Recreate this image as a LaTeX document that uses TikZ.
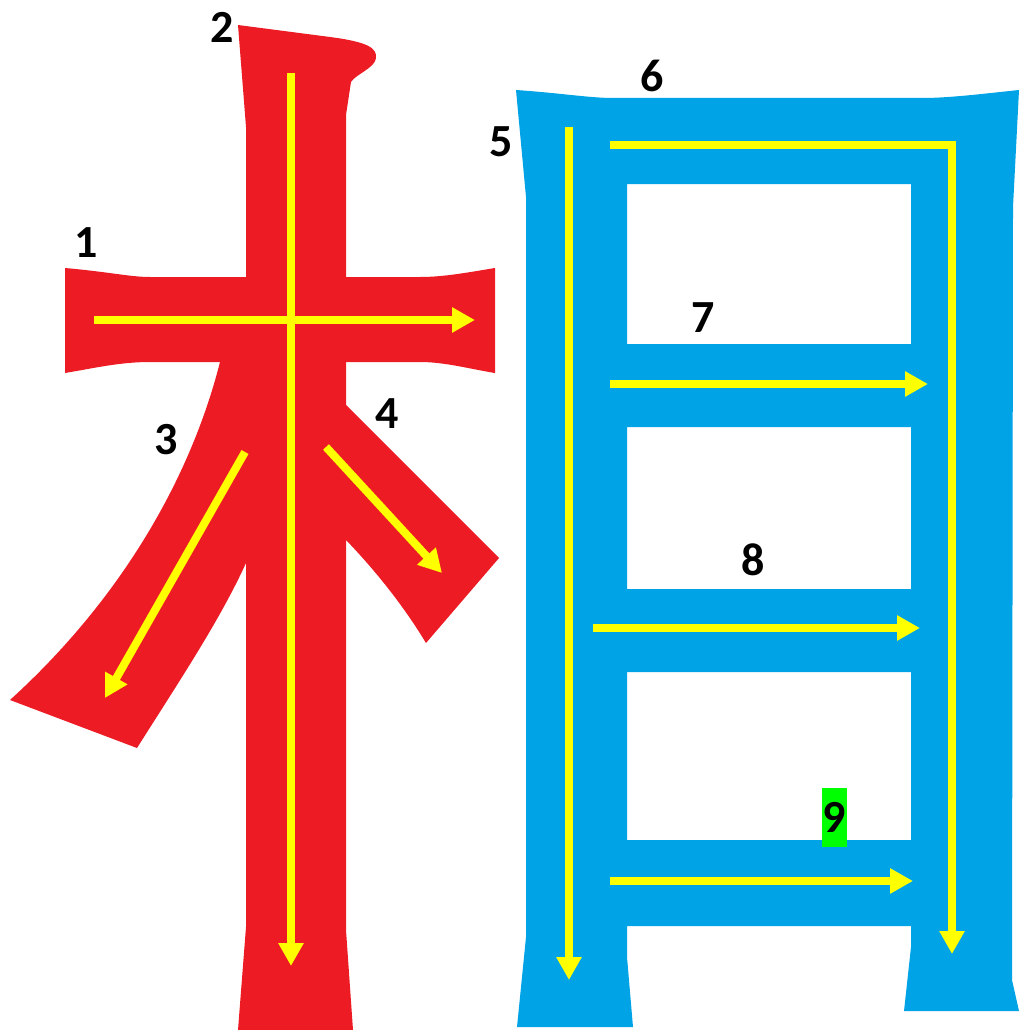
\documentclass[tikz,border=0pt]{standalone}
\usepackage{fontspec}
\setmainfont{Carlito}
\usetikzlibrary{arrows.meta}
\definecolor{strokered}{HTML}{ED1C24}
\definecolor{strokeblue}{HTML}{00A3E6}
\definecolor{pathyellow}{HTML}{FFFF00}
\definecolor{marklime}{HTML}{00FF00}
\tikzset{
  order/.style={
    pathyellow,
    line width=8pt,
    arrows={-Triangle[width=24pt, length=23pt]},
  },
  num/.style={
    font=\fontsize{46}{46}\selectfont\bfseries,
    text=black,
    inner sep=0pt,
  }
}

\begin{document}
\begin{tikzpicture}[x=1pt, y=-1pt]
    \useasboundingbox (0, 0) rectangle (1020, 1030);

    % left part: red strokes
    \fill[strokered] (65, 268) .. controls (110, 272) and (130, 277) .. (150, 277) -- (420, 277)
        .. controls (445, 277) and (470, 272) .. (495, 268) -- (495, 373)
        .. controls (470, 369) and (445, 362) .. (420, 362) -- (150, 362)
        .. controls (120, 362) and (95, 368) .. (65, 373) -- cycle;
    \fill[strokered] (238, 25) -- (330, 37) .. controls (368, 42) and (377, 48) .. (376, 58)
        .. controls (375, 68) and (356, 74) .. (351, 82) -- (346, 115) -- (346, 930)
        -- (353, 1030) -- (238, 1030) -- (246, 927) -- (246, 127) -- cycle;
    \fill[strokered] (220, 362) -- (250, 362) -- (250, 563) -- (246, 563)
        .. controls (220, 620) and (180, 680) .. (137, 748) -- (10, 700)
        .. controls (120, 600) and (190, 480) .. (220, 362) -- cycle;
    \fill[strokered] (340, 399) -- (499, 558) -- (426, 643)
        .. controls (400, 600) and (370, 565) .. (346, 540) -- (340, 540) -- cycle;

    % right part: blue strokes
    \fill[strokeblue, even odd rule] (516, 90) .. controls (560, 93) and (590, 98) .. (613, 98) -- (923, 98)
        .. controls (950, 98) and (990, 93) .. (1019, 90) -- (1013, 207) -- (1012, 980)
        -- (1019, 1011) -- (904, 1011) -- (911, 947) -- (911, 926) -- (627, 926)
        -- (627, 957) -- (633, 1027) -- (517, 1027) -- (526, 937) -- (526, 197) -- cycle
        (627, 184) rectangle (911, 344)
        (627, 427) rectangle (911, 589)
        (627, 672) rectangle (911, 840);

    % stroke order arrows
    \draw[order] (94, 320) -- (475, 320);
    \draw[order] (291, 73) -- (291, 966);
    \draw[order] (245, 452) -- (105, 698);
    \draw[order] (326, 447) -- (442, 573);
    \draw[order] (569, 127) -- (569, 980);
    \draw[order] (610, 145) -| (952, 954);
    \draw[order] (610, 384) -- (928, 384);
    \draw[order] (593, 628) -- (920, 628);
    \draw[order] (610, 881) -- (913, 881);

    % numbers
    \node[num] (n1) at (86, 243) {1};
    \node[num] (n2) at (222, 27) {2};
    \node[num] (n3) at (166, 440) {3};
    \node[num] (n4) at (387, 414) {4};
    \node[num] (n5) at (501, 142) {5};
    \node[num] (n6) at (652, 76) {6};
    \node[num] (n7) at (703, 318) {7};
    \node[num] (n8) at (753, 560) {8};
    \node[num, fill=marklime, minimum width=25pt, minimum height=59pt] (n9) at (834.5, 817.5) {9};

  \end{tikzpicture}
\end{document}
